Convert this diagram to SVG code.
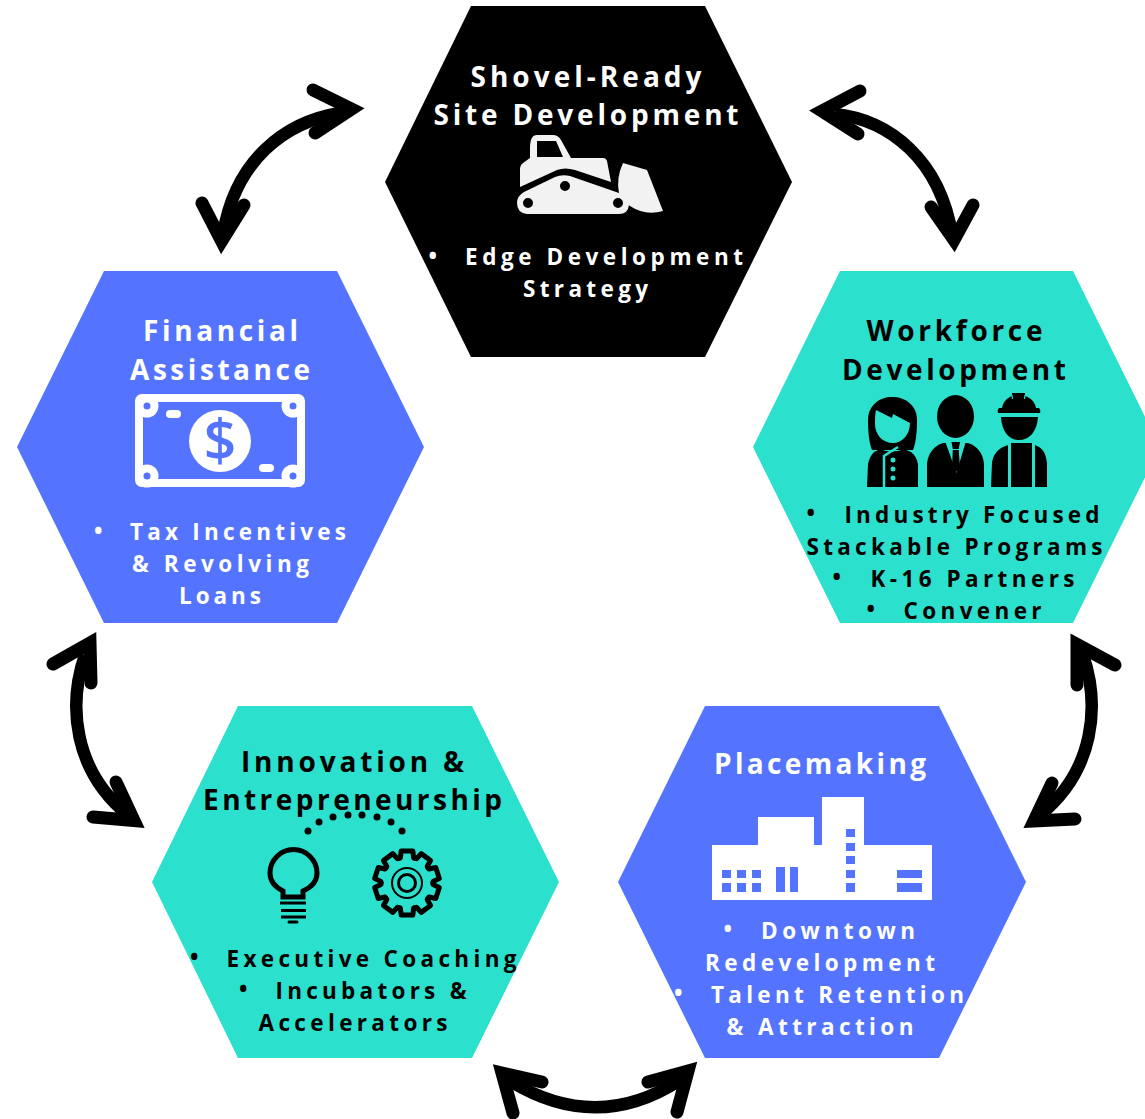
<svg xmlns="http://www.w3.org/2000/svg" xmlns:xlink="http://www.w3.org/1999/xlink" width="1145" height="1119" viewBox="0 0 1145 1119">
<style>
text{font-family:"Open Sans","Liberation Sans",sans-serif;font-weight:700}
.t{font-size:28px}
.b{font-size:22.5px}
.w text{fill:#fff}
.k text{fill:#000}
.teal{fill:#2be0cc}
.blue{fill:#5474ff}
.arrow{fill:none;stroke:#000;stroke-width:12.5;stroke-linecap:butt}
.head{fill:none;stroke:#000;stroke-width:13;stroke-linecap:round;stroke-linejoin:miter;stroke-miterlimit:10}
</style>
<defs>
<g id="tooth"><path d="M-8.03-24.73L-6.6-25.23L-5.8-32.1L5.8-32.1L6.6-25.23L8.03-24.73" fill="none" stroke="#000" stroke-width="5" stroke-linejoin="round" stroke-linecap="round"/></g>
</defs>
<rect width="1145" height="1119" fill="#fff"/>

<g id="connectors">
<path class="arrow" d="M340 113C285 122 235 160 223 235"/>
<path class="head" d="M313 90L351.500 109L315 133"/>
<path class="head" d="M202 203L221.600 241L244 205"/>
<path class="arrow" d="M835 114C890 120 940 160 952 235"/>
<path class="head" d="M860 91L822 111L858 134"/>
<path class="head" d="M973 205L954 240L931 207"/>
<path class="arrow" d="M85 655C68 705 73 770 128 815"/>
<path class="head" d="M53 664L90 643L91 683"/>
<path class="head" d="M116 782L134 820.500L93 817"/>
<path class="arrow" d="M1083 655C1100 705 1095 770 1040 815"/>
<path class="head" d="M1115 665L1077 644.500L1077 685"/>
<path class="head" d="M1052 783L1034 821L1075 819"/>
<path class="arrow" d="M510 1081Q597 1134 680 1080"/>
<path class="head" d="M542 1082L502 1073L513 1113"/>
<path class="head" d="M648 1082L688 1071L677 1112"/>
</g>

<g id="node-shovel-ready" class="w">
<polygon points="471,6 705,6 792,182 705,357 471,357 385,182" fill="#000"/>
<text class="t" x="470.500" y="86.500" textLength="231">Shovel-Ready</text>
<text class="t" x="433.500" y="124.500" textLength="305">Site Development</text>
<g fill="#f2f2f2">
<path fill-rule="evenodd" d="M530 148Q530 135 537 135L553 135Q558 135 561 140L571 158L603 158Q606 158 607 161L611 182L575 170Q565 167 557 170L520 187L520 168Q520 165 523 163L530 158ZM537 141L537 157L563 157L556 141Z"/>
<path fill-rule="evenodd" d="M524 192L555 177Q562 174 570 176L619 193Q628 197 629 205Q628 214 619 214L527 214Q517 213 517 203Q517 196 524 192ZM533 203A5 5 0 1 0 523 203A5 5 0 1 0 533 203ZM570 186A5 5 0 1 0 560 186A5 5 0 1 0 570 186ZM623 203A5 5 0 1 0 613 203A5 5 0 1 0 623 203Z"/>
<path d="M623 163L647 170L663 211Q645 216 630 206Q621 200 619 193Q616 178 623 163Z"/>
</g>
<text class="b" x="428.500" y="263.500">•</text>
<text class="b" x="465" y="264.500" textLength="278">Edge Development</text>
<text class="b" x="523" y="296.500" textLength="125">Strategy</text>
</g>

<g id="node-financial-assistance" class="w">
<polygon class="blue" points="104,271 337,271 424,447 337,623 104,623 17,447"/>
<text class="t" x="143" y="340.500" textLength="155">Financial</text>
<text class="t" x="130" y="379.500" textLength="180">Assistance</text>
<rect x="139" y="398" width="162" height="85" rx="3" fill="none" stroke="#fff" stroke-width="8"/>
<g fill="#fff">
<circle cx="147" cy="406" r="11.500"/><circle cx="293" cy="406" r="11.500"/><circle cx="147" cy="476" r="11.500"/><circle cx="293" cy="476" r="11.500"/>
<circle cx="220" cy="441" r="31"/>
<rect x="166" y="410" width="15" height="8" rx="4"/><rect x="259" y="464" width="15" height="8" rx="4"/>
</g>
<g class="blue">
<circle cx="147" cy="406" r="3.500"/><circle cx="293" cy="406" r="3.500"/><circle cx="147" cy="476" r="3.500"/><circle cx="293" cy="476" r="3.500"/>
</g>
<text x="220" y="461" text-anchor="middle" font-size="57" style="fill:#5474ff;font-weight:600">$</text>
<text class="b" x="94" y="538.500">•</text>
<text class="b" x="130" y="539.500" textLength="216">Tax Incentives</text>
<text class="b" x="132" y="571.500" textLength="177">&amp; Revolving</text>
<text class="b" x="179" y="603.500" textLength="82">Loans</text>
</g>

<g id="node-workforce-development" class="k">
<polygon class="teal" points="840,271 1073,271 1160,447 1073,623 840,623 753,447"/>
<text class="t" x="866.500" y="340.500" textLength="176">Workforce</text>
<text class="t" x="842" y="379.500" textLength="224">Development</text>
<path d="M892 397C880 397 868 405 868 420C868 432 869 442 872 450L913 450C916 442 917 432 917 420C917 405 905 397 892 397Z"/>
<path class="teal" d="M876 410L892 418L893 414L910 423C910 435 902 443 893 443C883 443 875 435 875 424C875 419 875 414 876 410Z"/>
<path d="M874 452L880 449Q892 454 904 449L911 452C915 455 917 459 918 464L918 487L867 487L868 464C869 459 871 455 874 452Z"/>
<path d="M898 447L884 456L884 487" fill="none" stroke="#2be0cc" stroke-width="2.500"/>
<g class="teal"><circle cx="893" cy="460" r="2.500"/><circle cx="893" cy="469" r="2.500"/><circle cx="893" cy="478" r="2.500"/></g>
<ellipse cx="955.500" cy="416.500" rx="18.500" ry="21.500"/>
<path d="M943 443L968 443C977 446 983 453 984 464L984 487L927 487L927 464C928 453 934 446 943 443Z"/>
<path class="teal" d="M945 441L966 441L956.500 473Z"/>
<path d="M951.500 442L960 442L958.700 449L952.800 449ZM952.800 450L958.700 450L960 468L956 472L952 468Z"/>
<path d="M1002 408C1003 402 1007 398 1012 396L1012 393L1025 393L1025 396C1031 398 1035 402 1036 408L1039 408Q1041 410 1040 413L998 413Q997 410 999 408Z"/>
<path d="M1012 395L1012.500 399M1025 395L1024.500 399" fill="none" stroke="#2be0cc" stroke-width="1.200"/>
<path d="M1001 417L1038 417C1037 432 1029 440 1019 440C1009 440 1002 432 1001 417Z"/>
<path d="M1003 447L1008 445L1008 487L991 487L992 463C993 455 997 450 1003 447ZM1011 443L1032 443L1032 487L1011 487ZM1035 445L1039 447C1044 450 1046 455 1047 463L1047 487L1035 487Z"/>
<text class="b" x="806.500" y="520.500">•</text>
<text class="b" x="844.500" y="522.500" textLength="255">Industry Focused</text>
<text class="b" x="806.500" y="554.500" textLength="296">Stackable Programs</text>
<text class="b" x="832.500" y="584.500">•</text>
<text class="b" x="870.500" y="586.500" textLength="204">K-16 Partners</text>
<text class="b" x="866.500" y="616.500">•</text>
<text class="b" x="903.500" y="618.500" textLength="138">Convener</text>
</g>

<g id="node-innovation" class="k">
<polygon class="teal" points="238,706 472,706 559,882 472,1058 238,1058 152,882"/>
<text class="t" x="241" y="771.500" textLength="223">Innovation &amp;</text>
<text class="t" x="203" y="809.500" textLength="299">Entrepreneurship</text>
<g>
<circle cx="308" cy="831" r="3.500"/><circle cx="319" cy="822" r="3.500"/><circle cx="333" cy="817" r="3.500"/><circle cx="348" cy="815" r="3.500"/><circle cx="362" cy="815" r="3.500"/><circle cx="377" cy="817" r="3.500"/><circle cx="391" cy="822" r="3.500"/><circle cx="402" cy="831" r="3.500"/>
</g>
<path d="M283 897L283 891C275 887 270 881 270 873A23.500 23.500 0 0 1 317 873C317 881 312 887 303 891L303 897Z" fill="none" stroke="#000" stroke-width="5"/>
<path d="M280 903H306M281 910.500H306M281 917H306" fill="none" stroke="#000" stroke-width="3"/>
<path d="M289 922H297" fill="none" stroke="#000" stroke-width="3" stroke-linecap="round"/>
<g transform="translate(407 883)">
<use xlink:href="#tooth" href="#tooth"/><use xlink:href="#tooth" href="#tooth" transform="rotate(36)"/><use xlink:href="#tooth" href="#tooth" transform="rotate(72)"/><use xlink:href="#tooth" href="#tooth" transform="rotate(108)"/><use xlink:href="#tooth" href="#tooth" transform="rotate(144)"/><use xlink:href="#tooth" href="#tooth" transform="rotate(180)"/><use xlink:href="#tooth" href="#tooth" transform="rotate(216)"/><use xlink:href="#tooth" href="#tooth" transform="rotate(252)"/><use xlink:href="#tooth" href="#tooth" transform="rotate(288)"/><use xlink:href="#tooth" href="#tooth" transform="rotate(324)"/>
<circle r="15" fill="none" stroke="#000" stroke-width="2"/>
<circle r="8.500" fill="none" stroke="#000" stroke-width="3"/>
</g>
<text class="b" x="190" y="964.500">•</text>
<text class="b" x="226.500" y="966.500" textLength="290">Executive Coaching</text>
<text class="b" x="239" y="996.500">•</text>
<text class="b" x="275.500" y="998.500" textLength="191">Incubators &amp;</text>
<text class="b" x="258.500" y="1030.500" textLength="189">Accelerators</text>
</g>

<g id="node-placemaking" class="w">
<polygon class="blue" points="705,706 939,706 1026,882 939,1058 705,1058 618,882"/>
<text class="t" x="714" y="773.500" textLength="212">Placemaking</text>
<path fill="#fff" d="M712 845H758V817H814V845H822V797H864V845H932V900H712Z"/>
<path class="blue" d="M722 870h9v8h-9zM737 870h9v8h-9zM752 870h9v8h-9zM722 883h9v9h-9zM737 883h9v9h-9zM752 883h9v9h-9zM776 867h9v25h-9zM790 867h8v25h-8zM846 829h9v8h-9zM846 843h9v8h-9zM846 856h9v8h-9zM846 870h9v8h-9zM846 883h9v9h-9zM897 870h25v8h-25zM897 883h25v9h-25z"/>
<text class="b" x="723.500" y="936.500">•</text>
<text class="b" x="761" y="938.500" textLength="154">Downtown</text>
<text class="b" x="705" y="970.500" textLength="230">Redevelopment</text>
<text class="b" x="674" y="1000.500">•</text>
<text class="b" x="711" y="1002.500" textLength="253">Talent Retention</text>
<text class="b" x="726.500" y="1034.500" textLength="187">&amp; Attraction</text>
</g>
</svg>
